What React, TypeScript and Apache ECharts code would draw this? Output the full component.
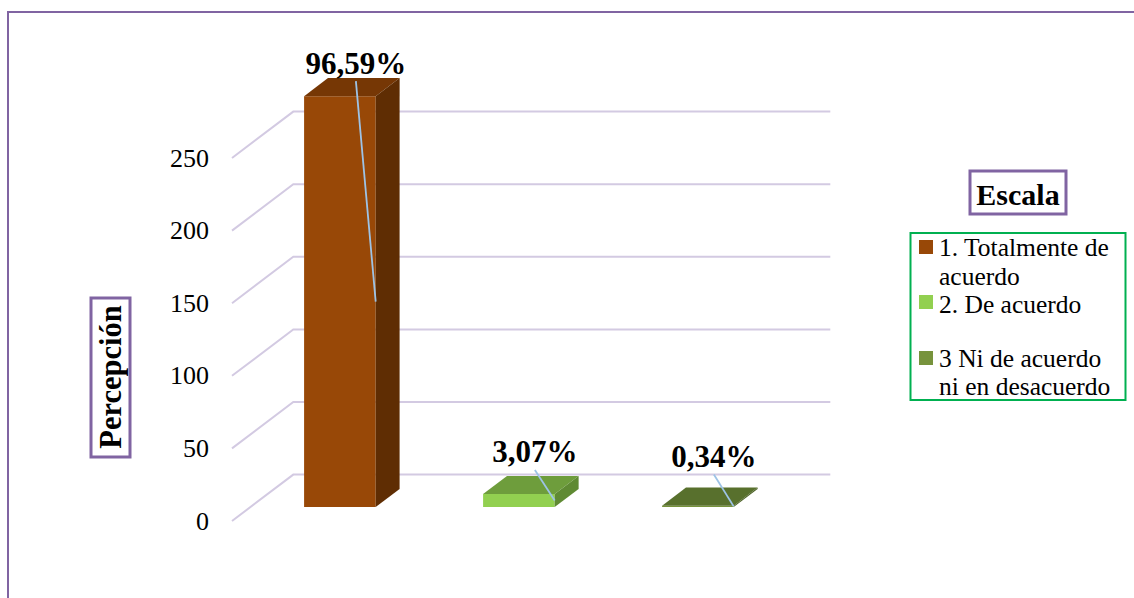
import React, { useEffect, useRef } from "react";
import * as echarts from "echarts";

// ---- data ----
const categories = ["1. Totalmente de acuerdo", "2. De acuerdo", "3 Ni de acuerdo ni en desacuerdo"];
const legendLabels = ["1. Totalmente de\nacuerdo", "2. De acuerdo", "3 Ni de acuerdo\nni en desacuerdo"];
const counts = [283, 9, 1];
const percentLabels = ["96,59%", "3,07%", "0,34%"];
const yTicks = [0, 50, 100, 150, 200, 250];
const axisTitle = "Percepción";
const legendTitle = "Escala";

// ---- styles ----
const FRONT = ["#984807", "#92D050", "#77933C"];
const TOP = ["#763705", "#6E9D3C", "#58702D"];
const SIDE = ["#5F2D03", "#5F8A33", "#4E6428"];
const FONT = "'Liberation Serif', 'Times New Roman', serif";
const DEPTH = { x: 61.3, y: -46.4 };
const FRONT_F = 0.3;
const BAR_D = 0.39;
const BAR_W = 0.4;
const LABEL_LIFT = [15, 24, 31];

export default function App() {
  const ref = useRef<HTMLDivElement>(null);
  useEffect(() => {
    if (!ref.current) return;
    const chart = echarts.init(ref.current, null, { renderer: "svg" });

    const legendGraphics: any[] = [];
    const markerY = [240, 295, 351];
    const textTop = [233.5, 290, 344];
    legendLabels.forEach((lab, i) => {
      legendGraphics.push({
        type: "rect",
        shape: { x: 919, y: markerY[i], width: 14, height: 14 },
        style: { fill: FRONT[i] },
        silent: true,
      });
      legendGraphics.push({
        type: "text",
        x: 939,
        y: textTop[i],
        style: {
          text: lab,
          fontFamily: FONT,
          fontSize: 25.5,
          lineHeight: 28.5,
          fill: "#000",
          align: "left",
          verticalAlign: "top",
        },
        silent: true,
      });
    });

    const option: any = {
      animation: false,
      grid: { left: 232, width: 537, top: 158, bottom: 77, containLabel: false },
      xAxis: {
        type: "category",
        data: categories,
        show: false,
      },
      yAxis: {
        type: "value",
        min: 0,
        max: 250,
        interval: 50,
        axisLine: { show: false },
        axisTick: { show: false },
        splitLine: { show: false },
        axisLabel: {
          show: true,
          margin: 23,
          fontFamily: FONT,
          fontSize: 26,
          color: "#000",
        },
      },
      series: [
        {
          type: "custom",
          z: 1,
          silent: true,
          clip: false,
          data: yTicks.map((t) => [0, t]),
          renderItem: (params: any, api: any) => {
            const t = api.value(1);
            const y = api.coord([0, t])[1];
            const left = params.coordSys.x;
            const right = left + params.coordSys.width;
            return {
              type: "polyline",
              shape: {
                points: [
                  [left, y],
                  [left + DEPTH.x, y + DEPTH.y],
                  [right + DEPTH.x, y + DEPTH.y],
                ],
              },
              style: { stroke: "#D3CAE2", lineWidth: 2, fill: null },
            };
          },
        },
        {
          type: "custom",
          z: 2,
          silent: true,
          clip: false,
          data: counts.map((v, i) => [i, v]),
          renderItem: (params: any, api: any) => {
            const i = api.value(0);
            const v = api.value(1);
            const base = api.coord([i, 0]);
            const top = api.coord([i, v]);
            const bw = api.size([1, 0])[0] * BAR_W;
            const fx = DEPTH.x * FRONT_F;
            const fy = DEPTH.y * FRONT_F;
            const bx = DEPTH.x * BAR_D;
            const by = DEPTH.y * BAR_D;
            const x0 = base[0] - bw / 2 + fx;
            const x1 = x0 + bw;
            const yb = base[1] + fy;
            const yt = top[1] + fy;
            const idx = params.dataIndex;
            const lx = (x0 + x1) / 2 + 16;
            const ly = yt + by - LABEL_LIFT[idx];
            return {
              type: "group",
              children: [
                {
                  type: "polygon",
                  shape: { points: [[x0, yb], [x1, yb], [x1, yt], [x0, yt]] },
                  style: { fill: FRONT[idx] },
                },
                {
                  type: "polygon",
                  shape: { points: [[x0, yt], [x1, yt], [x1 + bx, yt + by], [x0 + bx, yt + by]] },
                  style: { fill: TOP[idx] },
                },
                {
                  type: "polygon",
                  shape: { points: [[x1, yb], [x1, yt], [x1 + bx, yt + by], [x1 + bx, yb + by]] },
                  style: { fill: SIDE[idx] },
                },
                {
                  type: "line",
                  shape: { x1: lx, y1: ly + 18, x2: x1, y2: (yb + yt) / 2 },
                  style: { stroke: "#9DC3E6", lineWidth: 1.8 },
                },
                {
                  type: "text",
                  style: {
                    text: percentLabels[idx],
                    x: lx,
                    y: ly,
                    align: "center",
                    verticalAlign: "middle",
                    fontFamily: FONT,
                    fontSize: 31,
                    fontWeight: "bold",
                    fill: "#000",
                  },
                },
              ],
            };
          },
        },
      ],
      graphic: [
        {
          type: "rect",
          shape: { x: 8, y: 12, width: 1400, height: 800 },
          style: { fill: "none", stroke: "#8064A2", lineWidth: 2 },
          silent: true,
          z: -10,
        },
        {
          type: "rect",
          shape: { x: 91, y: 298, width: 39, height: 159 },
          style: { fill: "#fff", stroke: "#8064A2", lineWidth: 3 },
          silent: true,
        },
        {
          type: "text",
          x: 111,
          y: 377,
          rotation: Math.PI / 2,
          style: {
            text: axisTitle,
            align: "center",
            verticalAlign: "middle",
            fontFamily: FONT,
            fontSize: 30.5,
            fontWeight: "bold",
            fill: "#000",
          },
          silent: true,
        },
        {
          type: "rect",
          shape: { x: 970, y: 171, width: 96, height: 43 },
          style: { fill: "#fff", stroke: "#8064A2", lineWidth: 3 },
          silent: true,
        },
        {
          type: "text",
          x: 1018,
          y: 194,
          style: {
            text: legendTitle,
            align: "center",
            verticalAlign: "middle",
            fontFamily: FONT,
            fontSize: 30,
            fontWeight: "bold",
            fill: "#000",
          },
          silent: true,
        },
        {
          type: "rect",
          shape: { x: 910.5, y: 233, width: 215, height: 167 },
          style: { fill: "#fff", stroke: "#00B050", lineWidth: 2 },
          silent: true,
        },
        ...legendGraphics,
      ],
    };
    chart.setOption(option);
    return () => chart.dispose();
  }, []);
  return (
    <div
      ref={ref}
      style={{ position: "absolute", left: 0, top: 0, width: 1134, height: 598, background: "#fff" }}
    />
  );
}
